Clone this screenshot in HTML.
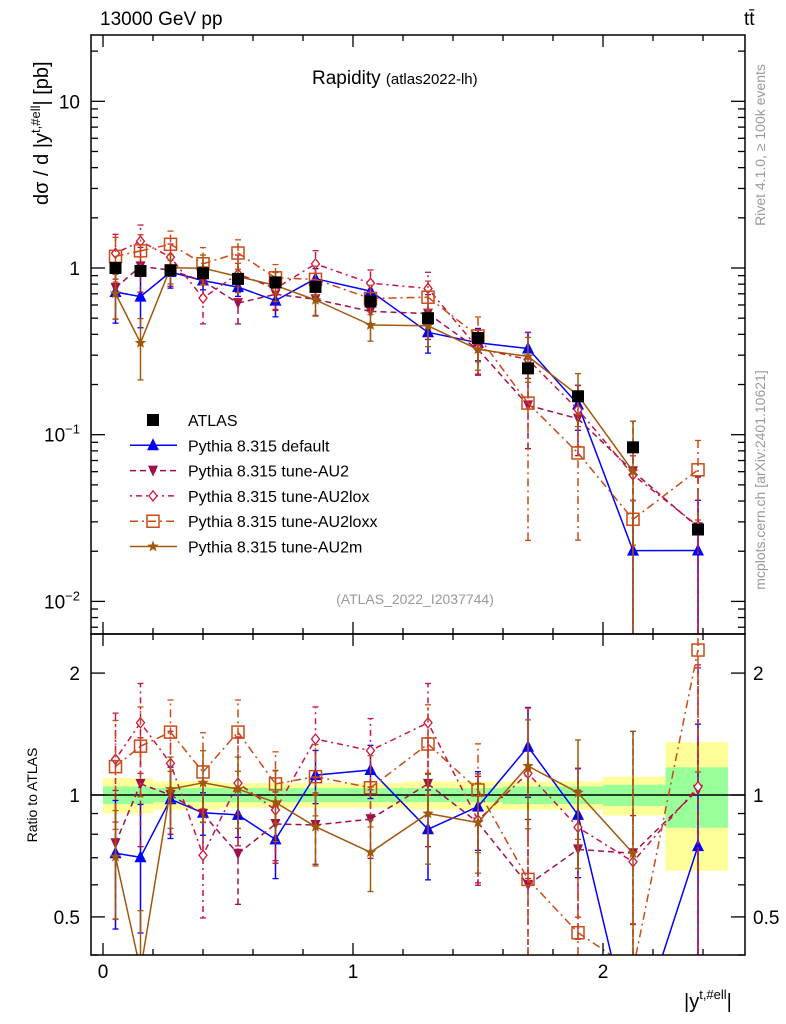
<!DOCTYPE html>
<html><head><meta charset="utf-8"><style>
html,body{margin:0;padding:0;background:#fff;width:786px;height:1024px;overflow:hidden}
svg{display:block}
svg text{font-family:"Liberation Sans",sans-serif}
</style></head><body>
<svg id="chart" width="786" height="1024" viewBox="0 0 786 1024" xmlns="http://www.w3.org/2000/svg">
<rect width="786" height="1024" fill="#fff"/>
<g id="bands"></g><g id="grid"></g><g id="series"></g><g id="axes"></g>
<text x="100" y="25" font-size="19">13000 GeV pp</text>
<text x="744" y="25" font-size="19">tt̄</text>
<text x="312" y="84" font-size="19">Rapidity <tspan font-size="15">(atlas2022-lh)</tspan></text>
<text x="415" y="604" font-size="14" fill="#999" text-anchor="middle">(ATLAS_2022_I2037744)</text>
<text transform="translate(48,205) rotate(-90)" font-size="20" text-anchor="start">dσ / d |y<tspan dy="-8" font-size="13">t,#ell</tspan><tspan dy="8">| [pb]</tspan></text>
<text transform="translate(37,795) rotate(-90)" font-size="14" text-anchor="middle">Ratio to ATLAS</text>
<text x="684" y="1008" font-size="20">|y<tspan dy="-9" font-size="13">t,#ell</tspan><tspan dy="9">|</tspan></text>
<text transform="translate(765,145) rotate(-90)" font-size="14" fill="#999" text-anchor="middle">Rivet 4.1.0, ≥ 100k events</text>
<text transform="translate(765,480) rotate(-90)" font-size="14" fill="#999" text-anchor="middle">mcplots.cern.ch [arXiv:2401.10621]</text>
<g id="legend"></g>
</svg>
<script>
const xCenters=[0.05,0.15,0.27,0.4,0.54,0.69,0.85,1.07,1.3,1.5,1.7,1.9,2.12,2.38];
const binEdges=[0,0.1,0.2,0.33,0.47,0.61,0.77,0.93,1.2,1.4,1.6,1.8,2.0,2.25,2.5];
const atlas=[1.0,0.96,0.97,0.93,0.86,0.82,0.77,0.63,0.50,0.38,0.25,0.17,0.084,0.027];
const bandYellow=[0.10,0.10,0.08,0.08,0.07,0.07,0.07,0.07,0.08,0.08,0.08,0.08,0.11,0.35];
const bandGreen=[0.05,0.05,0.04,0.04,0.04,0.04,0.04,0.04,0.04,0.04,0.05,0.05,0.06,0.17];
const rDefault=[0.718,0.702,0.976,0.904,0.893,0.777,1.12,1.153,0.823,0.936,1.316,0.893,0.24,0.748];
const rAU2=[0.76,1.065,1.0,0.898,0.716,0.848,0.843,0.872,1.065,0.855,0.60,0.734,0.718,1.03];
const rLox=[1.225,1.508,1.197,0.71,1.07,0.918,1.375,1.287,1.508,0.867,1.131,0.832,0.684,1.048];
const rLoxx=[1.175,1.32,1.43,1.14,1.43,1.065,1.11,1.042,1.336,1.029,0.619,0.457,0.37,2.28];
const rAU2m=[0.704,0.37,1.034,1.072,1.034,0.959,0.835,0.722,0.90,0.855,1.179,1.013,0.718,null];
const eDefault=[0.35,0.35,0.2,0.12,0.12,0.2,0.15,0.15,0.25,0.22,0.25,0.3,1,1];
const eAU2=[0.35,0.3,0.2,0.2,0.25,0.2,0.2,0.2,0.3,0.3,0.45,0.4,1,1];
const eLox=[0.3,0.25,0.2,0.3,0.3,0.25,0.2,0.2,0.25,0.3,0.45,0.4,0.3,1];
const eLoxx=[0.3,0.25,0.2,0.25,0.2,0.2,0.2,0.2,0.25,0.3,0.85,0.7,0.3,0.5];
const eAU2m=[0.3,0.4,0.2,0.2,0.2,0.2,0.2,0.2,0.25,0.25,0.3,0.35,1];
const NS="http://www.w3.org/2000/svg";
const X0=91,X1=745,MT=35,MB=634,RB=955;
const sx=v=>103+250*v;
const clampY=(y,a,b)=>Math.min(Math.max(y,a),b);
const syRaw=v=>268-166.7*Math.log10(v);
const srRaw=v=>795-405*Math.log10(v);
const sy=v=>clampY(syRaw(v),MT,MB);
const sr=v=>clampY(srRaw(v),MB,RB);
function mk(tag,attrs,parent){const e=document.createElementNS(NS,tag);for(const k in attrs)e.setAttribute(k,attrs[k]);parent.appendChild(e);return e;}
const gB=document.getElementById('bands'),gA=document.getElementById('axes'),gS=document.getElementById('series'),gL=document.getElementById('legend');
for(let i=0;i<xCenters.length;i++){
 const x0=sx(binEdges[i]),x1=sx(binEdges[i+1]);
 const y=mk('rect',{x:x0,y:sr(1+bandYellow[i]),width:x1-x0,height:sr(1-bandYellow[i])-sr(1+bandYellow[i]),fill:'#ffff99'},gB);
 
 
 const g=mk('rect',{x:x0,y:sr(1+bandGreen[i]),width:x1-x0,height:sr(1-bandGreen[i])-sr(1+bandGreen[i]),fill:'#99ff99'},gB);
 
 
}
mk('line',{x1:X0,x2:X1,y1:sr(1),y2:sr(1),stroke:'#000','stroke-width':1.5},gB);
mk('rect',{x:X0,y:MT,width:X1-X0,height:MB-MT,fill:'none',stroke:'#000','stroke-width':1.5},gA);
mk('rect',{x:X0,y:MB,width:X1-X0,height:RB-MB,fill:'none',stroke:'#000','stroke-width':1.5},gA);
for(let k=0;k<=12;k++){const v=k*0.2;const x=sx(v);if(x<X0||x>X1)continue;
 const major=Math.abs(v-Math.round(v))<1e-6;const L=major?12:6;
 [[MT,1],[MB,-1],[MB,1],[RB,-1]].forEach(([y,d])=>mk('line',{x1:x,x2:x,y1:y,y2:y+d*L,stroke:'#000','stroke-width':1.3},gA));
 if(major){const t=mk('text',{x:x,y:978,'font-size':19,'text-anchor':'middle'},gA);t.textContent=Math.round(v);
 
 }
}
const decLabels=[[10,'10'],[1,'1'],[0.1,'10<tspan dy="-8" font-size="13">−1</tspan>'],[0.01,'10<tspan dy="-8" font-size="13">−2</tspan>']];
for(let d=-3;d<=1;d++)for(let m=1;m<=9;m++){const v=m*Math.pow(10,d);const y0=syRaw(v);if(y0<MT||y0>MB)continue;
 const L=m==1?14:7;mk('line',{x1:X0,x2:X0+L,y1:y0,y2:y0,stroke:'#000','stroke-width':1.3},gA);mk('line',{x1:X1,x2:X1-L,y1:y0,y2:y0,stroke:'#000','stroke-width':1.3},gA);}
decLabels.forEach(([v,s])=>{const t=mk('text',{x:80,y:sy(v)+7,'font-size':19,'text-anchor':'end'},gA);t.innerHTML=s;
 
 });
const rt=[0.4,0.5,0.6,0.7,0.8,0.9,1,2];
rt.forEach(v=>{const y=sr(v);const maj=(v==0.5||v==1||v==2);const L=maj?14:7;
 mk('line',{x1:X0,x2:X0+L,y1:y,y2:y,stroke:'#000','stroke-width':1.3},gA);mk('line',{x1:X1,x2:X1-L,y1:y,y2:y,stroke:'#000','stroke-width':1.3},gA);
 if(maj){[[80,'end'],[753,'start']].forEach(([x,a])=>{const t=mk('text',{x:x,y:y+7,'font-size':19,'text-anchor':a},gA);t.textContent=v;
 
 });}});
const series=[
 {name:'default',r:rDefault,e:eDefault,c:'#0000ff',dash:'',m:'tri'},
 {name:'au2',r:rAU2,e:eAU2,c:'#a0104e',dash:'6,4',m:'dtri'},
 {name:'au2lox',r:rLox,e:eLox,c:'#cc1444',dash:'2,4,6,4',m:'dia'},
 {name:'au2loxx',r:rLoxx,e:eLoxx,c:'#cc4a14',dash:'8,4,2,4',m:'sq'},
 {name:'au2m',r:rAU2m,e:eAU2m,c:'#a0580a',dash:'',m:'star'}];
function marker(t,x,y,c,p){
 if(t=='tri')return mk('polygon',{points:`${x},${y-7} ${x-6},${y+5} ${x+6},${y+5}`,fill:c},p);
 if(t=='dtri')return mk('polygon',{points:`${x},${y+6} ${x-5},${y-5} ${x+5},${y-5}`,fill:c},p);
 if(t=='dia')return mk('polygon',{points:`${x},${y-5} ${x-4},${y} ${x},${y+5} ${x+4},${y}`,fill:'#fff',stroke:c,'stroke-width':1.3},p);
 if(t=='sq')return mk('rect',{x:x-6,y:y-6,width:12,height:12,fill:'none',stroke:c,'stroke-width':1.5},p);
 if(t=='star'){let pts=[];for(let i=0;i<10;i++){const a=-Math.PI/2+i*Math.PI/5,rr=i%2?2.5:6;pts.push((x+rr*Math.cos(a)).toFixed(1)+','+(y+rr*Math.sin(a)).toFixed(1));}return mk('polygon',{points:pts.join(' '),fill:c},p);}
 if(t=='box')return mk('rect',{x:x-6,y:y-6,width:12,height:12,fill:'#000'},p);
}
function clip(id,y0,y1){const cp=mk('clipPath',{id:id},document.getElementById('chart'));mk('rect',{x:X0,y:y0,width:X1-X0,height:y1-y0},cp);}
clip('cm',MT,MB);clip('cr',MB,RB);
// clip a segment to [top,bot] in y
function clipSeg(x1,y1,x2,y2,top,bot){
 if((y1<top&&y2<top)||(y1>bot&&y2>bot))return null;
 const f=(yy)=>x1+(x2-x1)*(yy-y1)/(y2-y1);
 let a=[x1,y1],b=[x2,y2];
 if(y1>bot)a=[f(bot),bot];else if(y1<top)a=[f(top),top];
 if(y2>bot)b=[f(bot),bot];else if(y2<top)b=[f(top),top];
 return [a,b];
}
series.forEach(s=>{
 [['main',sy,syRaw,'cm',true,MT,MB],['ratio',sr,srRaw,'cr',false,MB,RB]].forEach(([pn,f,fr,cid,isMain,top,bot])=>{
  const g=mk('g',{'clip-path':`url(#${cid})`},gS);
  
  
  const pts=[];
  s.r.forEach((r,i)=>{if(r==null)return;const val=isMain?r*atlas[i]:r;const x=sx(xCenters[i]);pts.push([x,fr(val)]);
   const lo=Math.max(val*(1-s.e[i]),1e-4),hi=val*(1+s.e[i]);
   if(fr(val)<=bot+40){
   mk('line',{x1:x,x2:x,y1:f(lo),y2:f(hi),stroke:s.c,'stroke-width':1.5,'stroke-dasharray':s.dash},g);
   if(fr(hi)>=top&&fr(hi)<=bot)mk('line',{x1:x-3,x2:x+3,y1:f(hi),y2:f(hi),stroke:s.c,'stroke-width':1.3},g);
   if(fr(lo)>=top&&fr(lo)<=bot)mk('line',{x1:x-3,x2:x+3,y1:f(lo),y2:f(lo),stroke:s.c,'stroke-width':1.3},g);}});
  let d='';
  for(let k=0;k+1<pts.length;k++){const c=clipSeg(pts[k][0],pts[k][1],pts[k+1][0],pts[k+1][1],top,bot);if(c)d+=`M${c[0][0].toFixed(1)},${c[0][1].toFixed(1)}L${c[1][0].toFixed(1)},${c[1][1].toFixed(1)}`;}
  mk('path',{d:d,fill:'none',stroke:s.c,'stroke-width':1.5,'stroke-dasharray':s.dash},g);
  s.r.forEach((r,i)=>{if(r==null)return;const val=isMain?r*atlas[i]:r;const yy=fr(val);if(yy<top||yy>bot)return;const mm=marker(s.m,sx(xCenters[i]),yy,s.c,g);
   
   });
 });
});
atlas.forEach((v,i)=>{const b=marker('box',sx(xCenters[i]),sy(v),'#000',gS);
 
 });
const legNames=['ATLAS','Pythia 8.315 default','Pythia 8.315 tune-AU2','Pythia 8.315 tune-AU2lox','Pythia 8.315 tune-AU2loxx','Pythia 8.315 tune-AU2m'];
legNames.forEach((n,i)=>{const y=420+i*25.3;const g=mk('g',{},gL);
 
 
 if(i==0)marker('box',153,y,'#000',g);else{const s=series[i-1];mk('line',{x1:130,x2:177,y1:y,y2:y,stroke:s.c,'stroke-width':1.5,'stroke-dasharray':s.dash},g);marker(s.m,153,y,s.c,g);}
 const t=mk('text',{x:188,y:y+6,'font-size':16},g);t.textContent=n;});
</script>
</body></html>
